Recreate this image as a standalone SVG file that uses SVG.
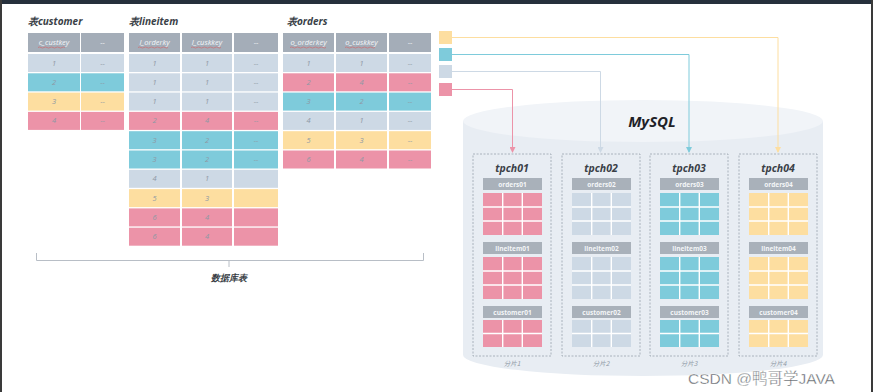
<svg xmlns="http://www.w3.org/2000/svg" xmlns:xlink="http://www.w3.org/1999/xlink" width="873" height="392" viewBox="0 0 873 392">
<style>
.t{font-family:"Open Sans","Liberation Sans",sans-serif;font-style:italic;font-weight:bold;fill:#3a3f47}
.tt{font-size:10px}
.h{font-family:"Open Sans","Liberation Sans",sans-serif;font-style:italic;font-size:7.5px;fill:#f4f6f8;text-anchor:middle}
.c{font-family:"Open Sans","Liberation Sans",sans-serif;font-style:italic;font-size:7.5px;fill:#8e98a4;text-anchor:middle}
.hd{fill:#a4adb8}
.g{fill:#cdd9e5}.b{fill:#7ecbdb}.y{fill:#fddea0}.p{fill:#ec93a8}
.sh{font-family:"Open Sans","Liberation Sans",sans-serif;font-weight:bold;font-size:6.5px;fill:#f4f6f8;text-anchor:middle}
.sl{font-family:"Noto Sans CJK SC",sans-serif;font-style:italic;font-size:6.5px;fill:#8e98a4;text-anchor:middle}
.box{fill:none;stroke:#9aa3ad;stroke-width:0.8;stroke-dasharray:2 1.5}
.wl{stroke:#fff;stroke-width:1.4;fill:none}
.red{stroke:#e05050;stroke-width:0.5;fill:none}
</style>
<defs>
<marker id="ap" viewBox="0 0 6 6" refX="3" refY="5" markerWidth="6" markerHeight="6" markerUnits="userSpaceOnUse"><path d="M0,0 L6,0 L3,6 Z" fill="#ec93a8"/></marker>
<marker id="ag" viewBox="0 0 6 6" refX="3" refY="5" markerWidth="6" markerHeight="6" markerUnits="userSpaceOnUse"><path d="M0,0 L6,0 L3,6 Z" fill="#cdd9e5"/></marker>
<marker id="ab" viewBox="0 0 6 6" refX="3" refY="5" markerWidth="6" markerHeight="6" markerUnits="userSpaceOnUse"><path d="M0,0 L6,0 L3,6 Z" fill="#7ecbdb"/></marker>
<marker id="ay" viewBox="0 0 6 6" refX="3" refY="5" markerWidth="6" markerHeight="6" markerUnits="userSpaceOnUse"><path d="M0,0 L6,0 L3,6 Z" fill="#fddea0"/></marker>
<g id="grid3">
<rect x="0" y="0" width="59" height="42"/>
<path class="wl" d="M19.7,0V42M39.3,0V42M0,14H59M0,28H59"/>
</g>
<g id="grid2">
<rect x="0" y="0" width="59" height="27"/>
<path class="wl" d="M19.7,0V27M39.3,0V27M0,13.5H59"/>
</g>
</defs>
<rect width="873" height="392" fill="#ffffff"/>
<rect x="0" y="0" width="873" height="4" fill="#26303c"/>
<rect x="0" y="0" width="2" height="392" fill="#3a3a3a"/>
<rect x="871" y="0" width="2" height="392" fill="#3a3a3a"/>

<!-- customer table -->
<g id="table-customer">
<text class="t tt" x="28" y="25">表customer</text>
<rect class="hd" x="28" y="33" width="52" height="19"/><rect class="hd" x="81" y="33" width="43" height="19"/>
<text class="h" x="54" y="45">c_custkey</text><path class="red" d="M38,47.5q1.5,-1 3,0t3,0t3,0t3,0t3,0t3,0t3,0t3,0t3,0"/><text class="h" x="102.5" y="45">--</text>
<rect class="g" x="28" y="54" width="52" height="18"/><rect class="g" x="81" y="54" width="43" height="18"/>
<text class="c" x="54" y="65.5">1</text><text class="c" x="102.5" y="65.5">--</text>
<rect class="b" x="28" y="73.3" width="52" height="18"/><rect class="b" x="81" y="73.3" width="43" height="18"/>
<text class="c" x="54" y="84.8">2</text><text class="c" x="102.5" y="84.8">--</text>
<rect class="y" x="28" y="92.6" width="52" height="18"/><rect class="y" x="81" y="92.6" width="43" height="18"/>
<text class="c" x="54" y="104.1">3</text><text class="c" x="102.5" y="104.1">--</text>
<rect class="p" x="28" y="111.9" width="52" height="18"/><rect class="p" x="81" y="111.9" width="43" height="18"/>
<text class="c" x="54" y="123.4">4</text><text class="c" x="102.5" y="123.4">--</text>
</g>

<!-- lineitem table -->
<g id="table-lineitem">
<text class="t tt" x="129" y="25">表lineitem</text>
<rect class="hd" x="129" y="33" width="51" height="19"/><rect class="hd" x="182" y="33" width="50" height="19"/><rect class="hd" x="234" y="33" width="44" height="19"/>
<text class="h" x="154.5" y="45">l_orderky</text><text class="h" x="207" y="45">l_cuskkey</text><text class="h" x="256" y="45">--</text>
<path class="red" d="M138,47.5q1.5,-1 3,0t3,0t3,0t3,0t3,0t3,0t3,0t3,0t3,0t3,0"/><path class="red" d="M191,47.5q1.5,-1 3,0t3,0t3,0t3,0t3,0t3,0t3,0t3,0t3,0t3,0"/>
<rect class="g" x="129" y="54" width="51" height="18"/><rect class="g" x="182" y="54" width="50" height="18"/><rect class="g" x="234" y="54" width="44" height="18"/>
<text class="c" x="154.5" y="65.5">1</text><text class="c" x="207" y="65.5">1</text><text class="c" x="256" y="65.5">--</text>
<rect class="g" x="129" y="73.3" width="51" height="18"/><rect class="g" x="182" y="73.3" width="50" height="18"/><rect class="g" x="234" y="73.3" width="44" height="18"/>
<text class="c" x="154.5" y="84.8">1</text><text class="c" x="207" y="84.8">1</text><text class="c" x="256" y="84.8">--</text>
<rect class="g" x="129" y="92.6" width="51" height="18"/><rect class="g" x="182" y="92.6" width="50" height="18"/><rect class="g" x="234" y="92.6" width="44" height="18"/>
<text class="c" x="154.5" y="104.1">1</text><text class="c" x="207" y="104.1">1</text><text class="c" x="256" y="104.1">--</text>
<rect class="p" x="129" y="111.9" width="51" height="18"/><rect class="p" x="182" y="111.9" width="50" height="18"/><rect class="p" x="234" y="111.9" width="44" height="18"/>
<text class="c" x="154.5" y="123.4">2</text><text class="c" x="207" y="123.4">4</text><text class="c" x="256" y="123.4">--</text>
<rect class="b" x="129" y="131.2" width="51" height="18"/><rect class="b" x="182" y="131.2" width="50" height="18"/><rect class="b" x="234" y="131.2" width="44" height="18"/>
<text class="c" x="154.5" y="142.7">3</text><text class="c" x="207" y="142.7">2</text><text class="c" x="256" y="142.7">--</text>
<rect class="b" x="129" y="150.5" width="51" height="18"/><rect class="b" x="182" y="150.5" width="50" height="18"/><rect class="b" x="234" y="150.5" width="44" height="18"/>
<text class="c" x="154.5" y="162">3</text><text class="c" x="207" y="162">2</text><text class="c" x="256" y="162">--</text>
<rect class="g" x="129" y="169.8" width="51" height="18"/><rect class="g" x="182" y="169.8" width="50" height="18"/><rect class="g" x="234" y="169.8" width="44" height="18"/>
<text class="c" x="154.5" y="181.3">4</text><text class="c" x="207" y="181.3">1</text>
<rect class="y" x="129" y="189.1" width="51" height="18"/><rect class="y" x="182" y="189.1" width="50" height="18"/><rect class="y" x="234" y="189.1" width="44" height="18"/>
<text class="c" x="154.5" y="200.6">5</text><text class="c" x="207" y="200.6">3</text>
<rect class="p" x="129" y="208.4" width="51" height="18"/><rect class="p" x="182" y="208.4" width="50" height="18"/><rect class="p" x="234" y="208.4" width="44" height="18"/>
<text class="c" x="154.5" y="219.9">6</text><text class="c" x="207" y="219.9">4</text>
<rect class="p" x="129" y="227.7" width="51" height="18"/><rect class="p" x="182" y="227.7" width="50" height="18"/><rect class="p" x="234" y="227.7" width="44" height="18"/>
<text class="c" x="154.5" y="239.2">6</text><text class="c" x="207" y="239.2">4</text>
</g>

<!-- orders table -->
<g id="table-orders">
<text class="t tt" x="287" y="25">表orders</text>
<rect class="hd" x="283" y="33" width="51" height="19"/><rect class="hd" x="336" y="33" width="51" height="19"/><rect class="hd" x="389" y="33" width="42" height="19"/>
<text class="h" x="308.5" y="45">o_orderkey</text><text class="h" x="361.5" y="45">o_cuskkey</text><text class="h" x="410" y="45">--</text>
<path class="red" d="M290,47.5q1.5,-1 3,0t3,0t3,0t3,0t3,0t3,0t3,0t3,0t3,0t3,0t3,0t3,0"/><path class="red" d="M345,47.5q1.5,-1 3,0t3,0t3,0t3,0t3,0t3,0t3,0t3,0t3,0t3,0"/>
<rect class="g" x="283" y="54" width="51" height="18"/><rect class="g" x="336" y="54" width="51" height="18"/><rect class="g" x="389" y="54" width="42" height="18"/>
<text class="c" x="308.5" y="65.5">1</text><text class="c" x="361.5" y="65.5">1</text><text class="c" x="410" y="65.5">--</text>
<rect class="p" x="283" y="73.3" width="51" height="18"/><rect class="p" x="336" y="73.3" width="51" height="18"/><rect class="p" x="389" y="73.3" width="42" height="18"/>
<text class="c" x="308.5" y="84.8">2</text><text class="c" x="361.5" y="84.8">4</text><text class="c" x="410" y="84.8">--</text>
<rect class="b" x="283" y="92.6" width="51" height="18"/><rect class="b" x="336" y="92.6" width="51" height="18"/><rect class="b" x="389" y="92.6" width="42" height="18"/>
<text class="c" x="308.5" y="104.1">3</text><text class="c" x="361.5" y="104.1">2</text><text class="c" x="410" y="104.1">--</text>
<rect class="g" x="283" y="111.9" width="51" height="18"/><rect class="g" x="336" y="111.9" width="51" height="18"/><rect class="g" x="389" y="111.9" width="42" height="18"/>
<text class="c" x="308.5" y="123.4">4</text><text class="c" x="361.5" y="123.4">1</text><text class="c" x="410" y="123.4">--</text>
<rect class="y" x="283" y="131.2" width="51" height="18"/><rect class="y" x="336" y="131.2" width="51" height="18"/><rect class="y" x="389" y="131.2" width="42" height="18"/>
<text class="c" x="308.5" y="142.7">5</text><text class="c" x="361.5" y="142.7">3</text><text class="c" x="410" y="142.7">--</text>
<rect class="p" x="283" y="150.5" width="51" height="18"/><rect class="p" x="336" y="150.5" width="51" height="18"/><rect class="p" x="389" y="150.5" width="42" height="18"/>
<text class="c" x="308.5" y="162">6</text><text class="c" x="361.5" y="162">4</text><text class="c" x="410" y="162">--</text>
</g>

<!-- bracket -->
<g id="bracket">
<path d="M36.5,253V260.5H423.5V253M229,260.5V267" fill="none" stroke="#b8bec6" stroke-width="1"/>
<text class="t" x="229" y="281" font-size="9" text-anchor="middle" fill="#4a4f57" font-family="Noto Sans CJK SC,sans-serif">数据库表</text>
</g>

<!-- legend squares -->
<g id="legend">
<rect class="y" x="439" y="31" width="13" height="13"/>
<rect class="b" x="439" y="48" width="13" height="13"/>
<rect class="g" x="439" y="65" width="13" height="13"/>
<rect class="p" x="439" y="83" width="13" height="13"/>
</g>

<!-- MySQL cylinder -->
<g id="mysql">
<path d="M463,121V355A180,21 0 0 0 823,355V121Z" fill="#e8edf3"/>
<ellipse cx="643" cy="121" rx="180" ry="21" fill="#f1f4f8"/>
<text x="652" y="127" font-family="Open Sans,Liberation Sans,sans-serif" font-style="italic" font-weight="bold" font-size="15" fill="#1e2127" text-anchor="middle">MySQL</text>
</g>

<!-- connectors -->
<g id="connectors" fill="none" stroke-width="1">
<path d="M452,37.5H778V152" stroke="#fddea0" marker-end="url(#ay)"/>
<path d="M452,54.5H689V152" stroke="#7ecbdb" marker-end="url(#ab)"/>
<path d="M452,71.5H600.5V152" stroke="#cdd9e5" marker-end="url(#ag)"/>
<path d="M452,89.5H512.5V152" stroke="#ec93a8" marker-end="url(#ap)"/>
</g>

<!-- shards -->
<g id="shard1" transform="translate(473,154)">
<rect class="box" x="0" y="0" width="78" height="202"/>
<text class="t" x="39" y="18" font-size="10.5" text-anchor="middle">tpch01</text>
<rect x="10" y="24" width="59" height="12" fill="#a9b1ba"/><text class="sh" x="39.5" y="32.5">orders01</text>
<use xlink:href="#grid3" x="10" y="39" class="p"/>
<rect x="10" y="88" width="59" height="12" fill="#a9b1ba"/><text class="sh" x="39.5" y="96.5">lineitem01</text>
<use xlink:href="#grid3" x="10" y="103" class="p"/>
<rect x="10" y="152" width="59" height="12" fill="#a9b1ba"/><text class="sh" x="39.5" y="160.5">customer01</text>
<use xlink:href="#grid2" x="10" y="166" class="p"/>
<text class="sl" x="39" y="212">分片1</text>
</g>
<g id="shard2" transform="translate(562,154)">
<rect class="box" x="0" y="0" width="78" height="202"/>
<text class="t" x="39" y="18" font-size="10.5" text-anchor="middle">tpch02</text>
<rect x="10" y="24" width="59" height="12" fill="#a9b1ba"/><text class="sh" x="39.5" y="32.5">orders02</text>
<use xlink:href="#grid3" x="10" y="39" class="g"/>
<rect x="10" y="88" width="59" height="12" fill="#a9b1ba"/><text class="sh" x="39.5" y="96.5">lineitem02</text>
<use xlink:href="#grid3" x="10" y="103" class="g"/>
<rect x="10" y="152" width="59" height="12" fill="#a9b1ba"/><text class="sh" x="39.5" y="160.5">customer02</text>
<use xlink:href="#grid2" x="10" y="166" class="g"/>
<text class="sl" x="39" y="212">分片2</text>
</g>
<g id="shard3" transform="translate(650,154)">
<rect class="box" x="0" y="0" width="78" height="202"/>
<text class="t" x="39" y="18" font-size="10.5" text-anchor="middle">tpch03</text>
<rect x="10" y="24" width="59" height="12" fill="#a9b1ba"/><text class="sh" x="39.5" y="32.5">orders03</text>
<use xlink:href="#grid3" x="10" y="39" class="b"/>
<rect x="10" y="88" width="59" height="12" fill="#a9b1ba"/><text class="sh" x="39.5" y="96.5">lineitem03</text>
<use xlink:href="#grid3" x="10" y="103" class="b"/>
<rect x="10" y="152" width="59" height="12" fill="#a9b1ba"/><text class="sh" x="39.5" y="160.5">customer03</text>
<use xlink:href="#grid2" x="10" y="166" class="b"/>
<text class="sl" x="39" y="212">分片3</text>
</g>
<g id="shard4" transform="translate(739,154)">
<rect class="box" x="0" y="0" width="78" height="202"/>
<text class="t" x="39" y="18" font-size="10.5" text-anchor="middle">tpch04</text>
<rect x="10" y="24" width="59" height="12" fill="#a9b1ba"/><text class="sh" x="39.5" y="32.5">orders04</text>
<use xlink:href="#grid3" x="10" y="39" class="y"/>
<rect x="10" y="88" width="59" height="12" fill="#a9b1ba"/><text class="sh" x="39.5" y="96.5">lineitem04</text>
<use xlink:href="#grid3" x="10" y="103" class="y"/>
<rect x="10" y="152" width="59" height="12" fill="#a9b1ba"/><text class="sh" x="39.5" y="160.5">customer04</text>
<use xlink:href="#grid2" x="10" y="166" class="y"/>
<text class="sl" x="39" y="212">分片4</text>
</g>

<text x="688" y="384" font-family="Liberation Sans,Noto Sans CJK SC,sans-serif" font-size="15.5" fill="#5a5f66" stroke="#ffffff" stroke-width="0.4">CSDN @鸭哥学JAVA</text>
</svg>
